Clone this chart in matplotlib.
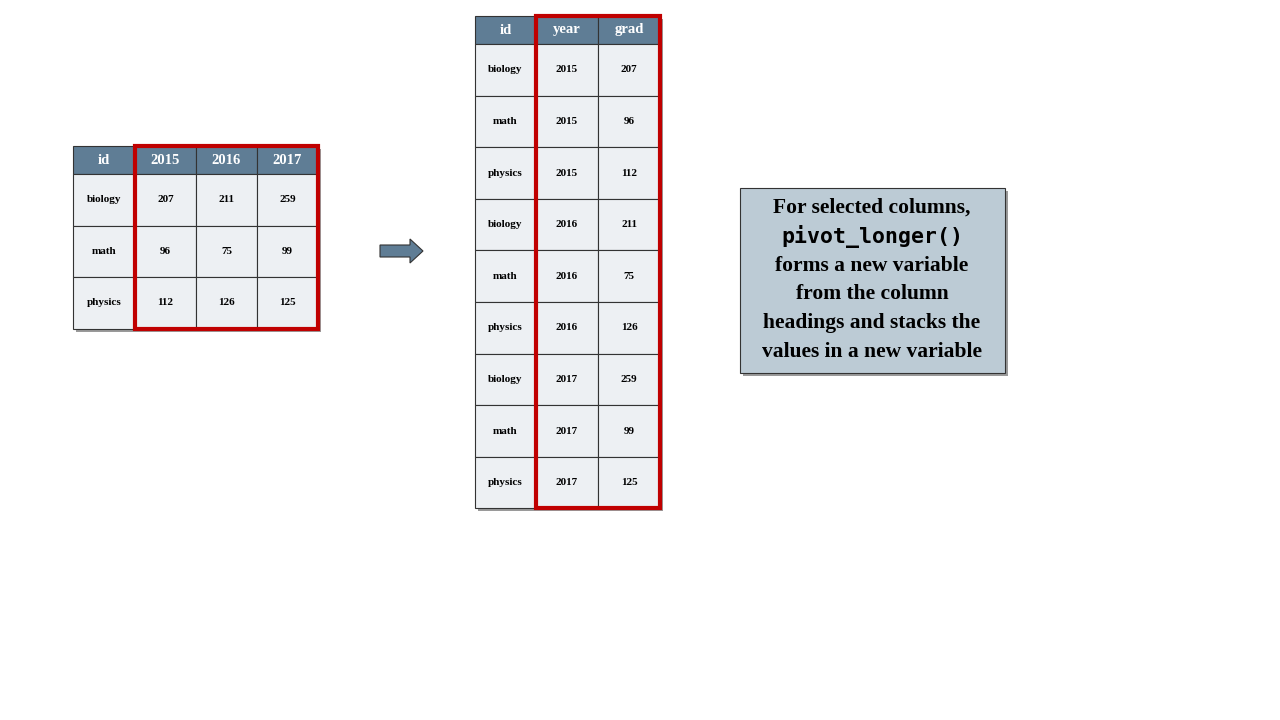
import matplotlib.pyplot as plt
from matplotlib.patches import Rectangle, FancyArrow

ids = ["biology", "math", "physics"]
years = ["2015", "2016", "2017"]
grad = [[207, 211, 259], [96, 75, 99], [112, 126, 125]]

HEAD = "#5f7d95"
CELL = "#edf0f3"
RED = "#c00000"
SERIF = "Liberation Serif"

fig = plt.figure(figsize=(12.8, 7.2), dpi=100)
ax = fig.add_axes([0, 0, 1, 1])
ax.set_xlim(0, 1280)
ax.set_ylim(720, 0)
ax.axis("off")


def table(x0, y0, colw, headh, rowh, header, rows):
    ncol = len(header)
    w = sum(colw)
    h = headh + rowh * len(rows)
    ax.add_patch(Rectangle((x0 + 3, y0 + 3), w, h, fc="#9a9a9a", ec="none", zorder=1))
    xs = [x0]
    for c in colw:
        xs.append(xs[-1] + c)
    for j, name in enumerate(header):
        ax.add_patch(Rectangle((xs[j], y0), colw[j], headh, fc=HEAD, ec="#333333", lw=0.8, zorder=2))
        ax.text((xs[j] + xs[j + 1]) / 2, y0 + headh / 2, name, color="white", ha="center",
                va="center", fontsize=10.5, fontweight="bold", family=SERIF, zorder=3)
    for i, row in enumerate(rows):
        y = y0 + headh + i * rowh
        for j, v in enumerate(row):
            ax.add_patch(Rectangle((xs[j], y), colw[j], rowh, fc=CELL, ec="#333333", lw=0.8, zorder=2))
            ax.text((xs[j] + xs[j + 1]) / 2, y + rowh / 2, str(v), ha="center", va="center",
                    fontsize=8, fontweight="bold", family=SERIF, zorder=3)
    return xs, h


# wide table
wide_rows = [[ids[i]] + grad[i] for i in range(len(ids))]
xs, h = table(73, 146, [62, 61, 61, 61], 28, 51.5, ["id"] + years, wide_rows)
ax.add_patch(Rectangle((xs[1], 146), xs[-1] - xs[1], h, fc="none", ec=RED, lw=3, zorder=4))

# long table
long_rows = []
for j, yr in enumerate(years):
    for i, name in enumerate(ids):
        long_rows.append([name, yr, grad[i][j]])
xs2, h2 = table(475, 16, [61, 62, 62], 28, 51.6, ["id", "year", "grad"], long_rows)
ax.add_patch(Rectangle((xs2[1], 16), xs2[-1] - xs2[1], h2, fc="none", ec=RED, lw=3, zorder=4))

# arrow
ax.add_patch(FancyArrow(380, 251, 30, 0, width=12, head_width=24, head_length=13,
                        length_includes_head=False, fc=HEAD, ec="#333333", lw=0.8, zorder=3))

# note box
ax.add_patch(Rectangle((743, 191), 265, 185, fc="#9a9a9a", ec="none", zorder=1))
ax.add_patch(Rectangle((740, 188), 265, 185, fc="#bccbd5", ec="#333333", lw=0.8, zorder=2))
lines = ["For selected columns,", "pivot_longer()", "forms a new variable",
         "from the column", "headings and stacks the", "values in a new variable"]
for k, line in enumerate(lines):
    mono = line == "pivot_longer()"
    ax.text(872, 208 + k * 28.8, line, ha="center", va="center", fontsize=15.5,
            fontweight="bold", family="DejaVu Sans Mono" if mono else SERIF, zorder=3)

fig.savefig("out.png", dpi=100)
